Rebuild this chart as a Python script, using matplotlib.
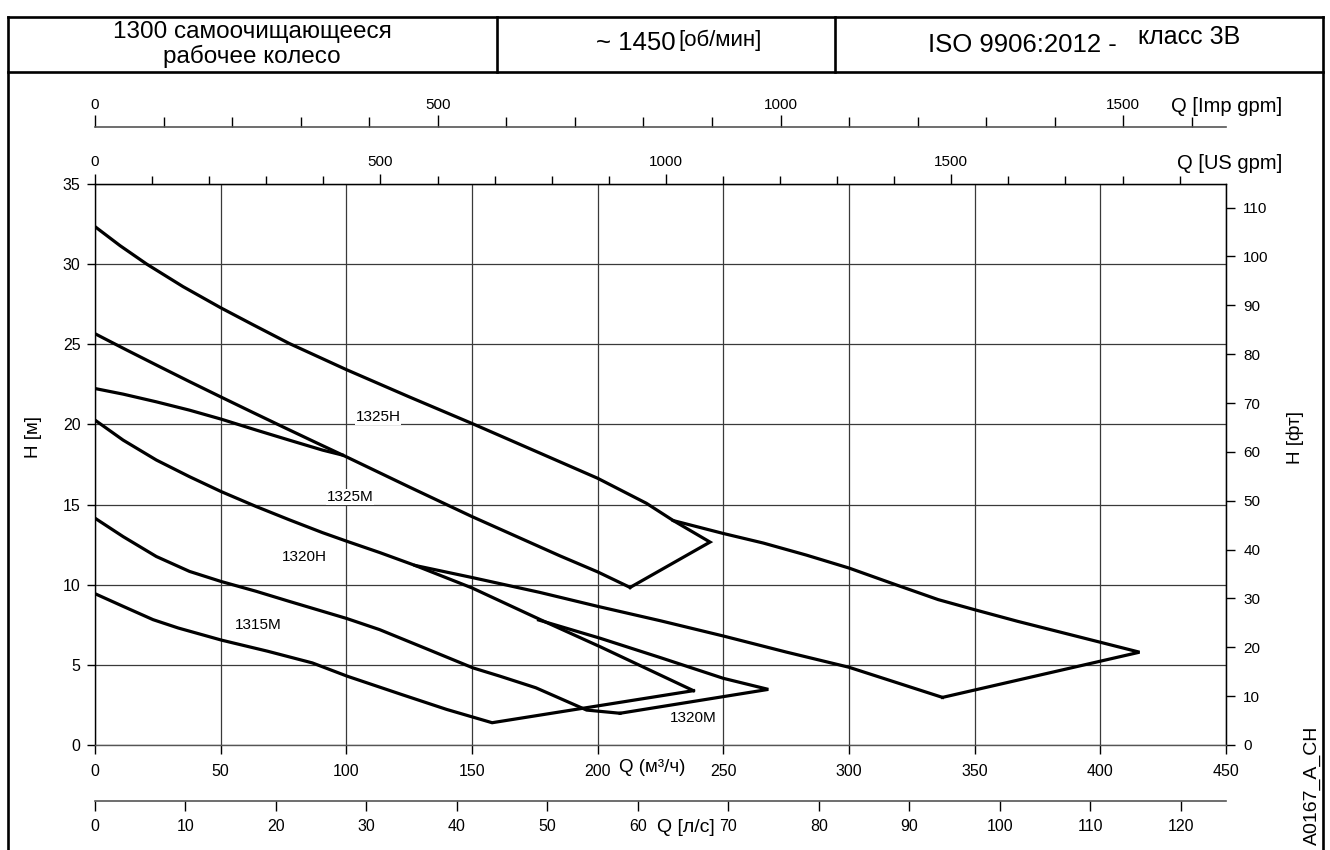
import matplotlib
matplotlib.use("Agg")
import matplotlib.pyplot as plt
from matplotlib.ticker import MultipleLocator, FixedLocator

FONT = ["Liberation Sans", "DejaVu Sans"]
plt.rcParams["font.family"] = FONT

# ---- data: Q [m3/h], H [m] ----
q_a = [0, 10, 20.6, 35, 50, 62.5, 77.3, 100, 125, 150, 175, 200, 219.4, 230.1, 244.7, 212.9]
h_a = [32.34, 31.15, 30.0, 28.6, 27.28, 26.25, 25.05, 23.42, 21.72, 20.06, 18.35, 16.64, 15.08, 14.0, 12.66, 9.83]

q_b = [0, 12.5, 25, 37.5, 50, 62.5, 75, 87.5, 100, 125, 150, 170, 185, 200, 212.9]
h_b = [25.66, 24.65, 23.66, 22.68, 21.72, 20.77, 19.83, 18.9, 17.98, 16.1, 14.25, 12.85, 11.8, 10.8, 9.83]

q_d = [0, 11.2, 24.4, 37.6, 50.2, 64.1, 77.3, 90.5, 98.4]
h_d = [22.24, 21.89, 21.41, 20.89, 20.33, 19.65, 19.02, 18.4, 18.09]

q_e = [0, 11.2, 24.4, 37.6, 50.2, 64.1, 77.3, 90.5, 100.4, 113.4, 127.4, 150, 177.2, 201, 238.1]
h_e = [20.27, 19.02, 17.78, 16.74, 15.81, 14.88, 14.05, 13.25, 12.7, 12.0, 11.2, 9.8, 7.82, 6.13, 3.39]

q_f = [176.5, 201, 225, 250, 267.9, 208.9]
h_f = [7.8, 6.66, 5.45, 4.16, 3.47, 1.98]

q_k_top = [230.1, 249.9, 265.9, 283, 300, 318.6, 335.5, 350, 367, 400, 415.6, 337.2]
h_k_top = [14.0, 13.2, 12.6, 11.85, 11.04, 10.0, 9.07, 8.44, 7.72, 6.41, 5.79, 2.97]

q_k_bot = [127.4, 150, 177, 200, 225, 250, 275, 300, 337.2]
h_k_bot = [11.2, 10.45, 9.52, 8.65, 7.75, 6.8, 5.8, 4.85, 2.97]

q_l = [0, 11.2, 24.4, 37.6, 50.2, 64.1, 77.3, 100, 113.2, 131, 150.4, 161.2, 175.4, 195.6, 208.9]
h_l = [14.15, 13.0, 11.76, 10.83, 10.2, 9.59, 8.96, 7.9, 7.2, 6.06, 4.81, 4.29, 3.57, 2.18, 1.98]

q_m = [0, 11.2, 23.1, 33.1, 50.4, 68.7, 86.5, 100.4, 122, 139.9, 158, 238.1]
h_m = [9.44, 8.65, 7.82, 7.3, 6.54, 5.85, 5.12, 4.29, 3.15, 2.22, 1.39, 3.39]

curves = [(q_a, h_a), (q_b, h_b), (q_d, h_d), (q_e, h_e), (q_f, h_f),
          (q_k_top, h_k_top), (q_k_bot, h_k_bot), (q_l, h_l), (q_m, h_m)]

labels = ["1325H", "1325M", "1320H", "1315M", "1320M"]
label_q = [112.6, 101.5, 83.2, 64.9, 238]
label_h = [20.46, 15.47, 11.73, 7.49, 1.68]

# secondary scale ticks
ft_ticks = list(range(0, 120, 10))
lps_ticks = list(range(0, 130, 10))
gpm_major = [0, 500, 1000, 1500]

# unit conversions
US_GPM = 4.4029
IMP_GPM = 3.6662
LPS = 1 / 3.6
FT = 3.28084

W, H = 1330, 850
fig = plt.figure(figsize=(13.3, 8.5), dpi=100)

# frame / header drawn in pixel coordinates
bg = fig.add_axes([0, 0, 1, 1])
bg.set_xlim(0, W)
bg.set_ylim(H, 0)
bg.axis("off")
lw_frame = 1.9
bg.plot([8, 1323], [17, 17], color="black", lw=lw_frame)
bg.plot([8, 1323], [72, 72], color="black", lw=lw_frame)
bg.plot([8, 8], [17, 850], color="black", lw=lw_frame)
bg.plot([1323, 1323], [17, 850], color="black", lw=lw_frame)
bg.plot([497, 497], [17, 72], color="black", lw=lw_frame)
bg.plot([835, 835], [17, 72], color="black", lw=lw_frame)

bg.text(252, 38, "1300 самоочищающееся", ha="center", va="baseline", fontsize=17.5)
bg.text(252, 63, "рабочее колесо", ha="center", va="baseline", fontsize=17.5)
bg.text(676, 50, "~ 1450", ha="right", va="baseline", fontsize=18.5)
bg.text(678, 46, "[об/мин]", ha="left", va="baseline", fontsize=16)
bg.text(928, 51.5, "ISO 9906:2012 -", ha="left", va="baseline", fontsize=18.5)
bg.text(1138, 43.5, "класс 3В", ha="left", va="baseline", fontsize=18)

bg.text(1282, 106, "Q [Imp gpm]", ha="right", va="center", fontsize=14.5)
bg.text(1282, 163, "Q [US gpm]", ha="right", va="center", fontsize=14.5)
bg.text(652, 768, "Q (м³/ч)", ha="center", va="center", fontsize=13.5)
bg.text(686, 827, "Q [л/с]", ha="center", va="center", fontsize=14)
bg.text(34, 437, "H [м]", ha="center", va="center", rotation=90, fontsize=13.5)
bg.text(1295, 437, "H [фт]", ha="center", va="center", rotation=90, fontsize=13.5)
bg.text(1312, 785, "A0167_A_CH", ha="center", va="center", rotation=90, fontsize=14)

# main chart
ax = fig.add_axes([95 / W, 105 / H, 1131 / W, 561 / H])
ax.patch.set_alpha(0)
ax.set_xlim(0, 450)
ax.set_ylim(0, 35)
ax.xaxis.set_major_locator(MultipleLocator(50))
ax.yaxis.set_major_locator(MultipleLocator(5))
ax.grid(True, color="#3a3a3a", lw=0.9)
for s in ax.spines.values():
    s.set_linewidth(1.0)
ax.spines["bottom"].set_color("#555555")
ax.tick_params(axis="x", direction="out", length=6.5, width=1, pad=7, labelsize=11.5)
ax.tick_params(axis="y", direction="out", length=5.5, width=1, pad=5, labelsize=11.5)

for q, h in curves:
    ax.plot(q, h, color="black", lw=2.3, solid_joinstyle="miter")

for t, q, h in zip(labels, label_q, label_h):
    ax.text(q, h, t, ha="center", va="center", fontsize=11,
            bbox=dict(facecolor="white", edgecolor="none", pad=0.5))

# right axis in feet
ry = ax.secondary_yaxis("right", functions=(lambda x: x * FT, lambda x: x / FT))
ry.yaxis.set_major_locator(FixedLocator(ft_ticks))
ry.tick_params(direction="out", length=6.5, width=1, pad=6, labelsize=11)

# top US gpm axis (on the plot's top spine)
tus = ax.secondary_xaxis("top", functions=(lambda x: x * US_GPM, lambda x: x / US_GPM))
tus.xaxis.set_major_locator(FixedLocator(gpm_major))
tus.xaxis.set_minor_locator(FixedLocator(list(range(0, 2000, 100))))
tus.tick_params(which="major", direction="out", length=7, width=1, pad=3.5, labelsize=11)
tus.tick_params(which="minor", direction="out", length=6, width=1)

# Imp gpm axis above it
timp = ax.secondary_xaxis((745 - 127) / 561, functions=(lambda x: x * IMP_GPM, lambda x: x / IMP_GPM))
timp.xaxis.set_major_locator(FixedLocator(gpm_major))
timp.xaxis.set_minor_locator(FixedLocator(list(range(0, 1700, 100))))
timp.tick_params(which="major", direction="out", length=8.5, width=1, pad=2.5, labelsize=11)
timp.tick_params(which="minor", direction="out", length=7, width=1)
timp.spines["top"].set_color("#555555")
timp.spines["top"].set_linewidth(1.2)

# l/s axis below
bls = ax.secondary_xaxis(-(801 - 745) / 561, functions=(lambda x: x * LPS, lambda x: x / LPS))
bls.xaxis.set_major_locator(FixedLocator(lps_ticks))
bls.tick_params(direction="out", length=7, width=1, pad=6, labelsize=11.5)
bls.spines["bottom"].set_color("#555555")
bls.spines["bottom"].set_linewidth(1.2)

fig.savefig("out.png", dpi=100)
